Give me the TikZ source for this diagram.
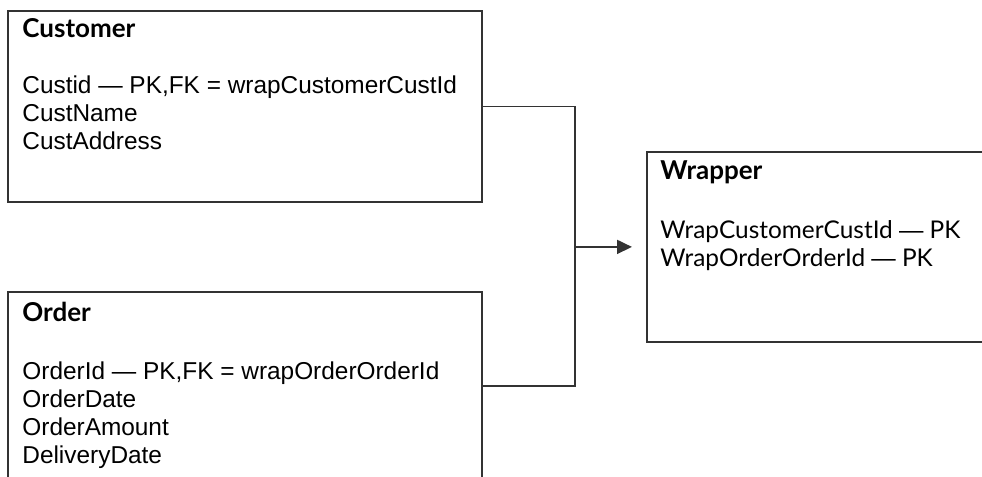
\documentclass[tikz,border=0pt]{standalone}
\usepackage{fontspec}
\setmainfont{Liberation Sans}
\newfontfamily\gillfont{Lato}
\usetikzlibrary{arrows.meta,positioning,calc}
\newcommand{\kdash}{{\normalfont—}}
\tikzset{
  entblk/.style={draw=black!80,line width=0.9pt,rectangle,inner sep=0pt},
  ttl/.style={font=\gillfont\bfseries\fontsize{13}{14}\selectfont,anchor=base west,inner sep=0pt},
  fld/.style={font=\fontsize{12.2}{14}\selectfont,align=left,anchor=north west,inner sep=0pt},
  wfld/.style={fld,font=\gillfont\fontsize{12.2}{14}\selectfont},
  conn/.style={draw=black!80,line width=0.9pt},
  arr/.style={conn,-{Triangle[length=7.5pt,width=7pt]}}
}
\begin{document}
\begin{tikzpicture}[x=0.5pt,y=-0.5pt]
  \useasboundingbox (0,0) rectangle (982,477);
  \clip (0,0) rectangle (982,477);

  % Customer table
  \node[entblk,anchor=north west,minimum width=237pt,minimum height=95.5pt] (cust) at (7,10) {};
  \node[ttl] (custttl) at ($(cust.north west)+(15,27)$) {Customer};
  \node[fld] (custfld) at ($(cust.north west)+(15,65)$) {Custid — PK,FK = wrapCustomerCustId\\CustName\\CustAddress};

  % Order table
  \node[entblk,anchor=north west,minimum width=237pt,minimum height=94pt] (ord) at (7,291) {};
  \node[ttl] (ordttl) at ($(ord.north west)+(15,30)$) {Order};
  \node[fld] (ordfld) at ($(ord.north west)+(15,70)$) {OrderId — PK,FK = wrapOrderOrderId\\OrderDate\\OrderAmount\\DeliveryDate};

  % Wrapper table
  \node[entblk,anchor=north west,minimum width=200pt,minimum height=95pt] (wrap) at (646,151) {};
  \node[ttl] (wrapttl) at ($(wrap.north west)+(14,28)$) {Wrapper};
  \node[wfld] (wrapfld) at ($(wrap.north west)+(14,69)$) {WrapCustomerCustId \kdash{} PK\\WrapOrderOrderId \kdash{} PK};

  % Connectors
  \coordinate (jn) at ($(wrap.west)+(-71,0)$);
  \draw[conn] (cust.east) -| (jn) |- (ord.east);
  \draw[arr,shorten >=7pt] (jn) -- (wrap.west);
\end{tikzpicture}
\end{document}
